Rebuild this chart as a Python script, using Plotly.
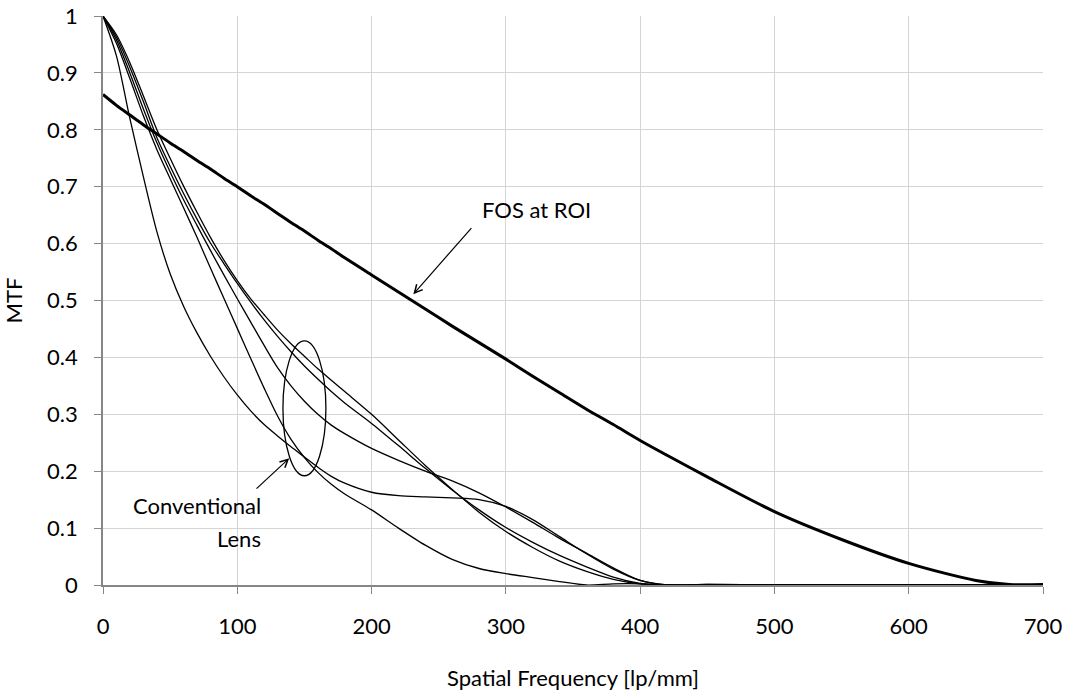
import plotly.graph_objects as go

# Spatial frequency sample points [lp/mm]
freq = [0, 10, 20, 30, 40, 50, 60, 70, 80, 90, 100, 110, 120, 130, 140, 150,
        160, 170, 180, 200, 220, 240, 260, 280, 300, 320, 340, 360, 380, 400,
        420, 450, 500, 550, 600, 650, 675, 700]

# FOS at region of interest
mtf_fos = [0.862, 0.843, 0.826, 0.809, 0.793, 0.777, 0.762, 0.746, 0.731, 0.715,
           0.700, 0.684, 0.669, 0.653, 0.637, 0.622, 0.606, 0.591, 0.575, 0.545,
           0.515, 0.485, 0.455, 0.426, 0.397, 0.367, 0.338, 0.309, 0.282, 0.254,
           0.228, 0.190, 0.129, 0.080, 0.038, 0.008, 0.001, 0.001]

# Conventional lens, five field positions
mtf_lens_a = [1.000, 0.930, 0.820, 0.718, 0.622, 0.547, 0.490, 0.443, 0.402, 0.366,
              0.334, 0.306, 0.282, 0.262, 0.243, 0.225, 0.207, 0.191, 0.179, 0.163,
              0.157, 0.155, 0.153, 0.150, 0.138, 0.115, 0.085, 0.055, 0.028, 0.008,
              0.000, 0.001, 0.000, 0.000, 0.000, 0.000, 0.000, 0.000]
mtf_lens_b = [1.000, 0.952, 0.890, 0.825, 0.766, 0.714, 0.663, 0.611, 0.557, 0.504,
              0.451, 0.398, 0.346, 0.297, 0.256, 0.224, 0.198, 0.177, 0.160, 0.132,
              0.100, 0.070, 0.045, 0.029, 0.020, 0.013, 0.006, 0.000, 0.002, 0.002,
              0.000, 0.000, 0.000, 0.000, 0.000, 0.000, 0.000, 0.000]
mtf_lens_c = [1.000, 0.958, 0.900, 0.837, 0.778, 0.726, 0.677, 0.632, 0.588, 0.545,
              0.503, 0.462, 0.421, 0.382, 0.350, 0.323, 0.300, 0.281, 0.266, 0.240,
              0.219, 0.200, 0.183, 0.162, 0.137, 0.110, 0.082, 0.056, 0.030, 0.008,
              0.000, 0.001, 0.000, 0.000, 0.000, 0.000, 0.000, 0.000]
mtf_lens_d = [1.000, 0.963, 0.910, 0.850, 0.787, 0.736, 0.688, 0.643, 0.601, 0.565,
              0.530, 0.497, 0.466, 0.437, 0.410, 0.385, 0.362, 0.340, 0.320, 0.284,
              0.245, 0.205, 0.167, 0.132, 0.101, 0.075, 0.052, 0.032, 0.014, 0.003,
              0.000, 0.000, 0.000, 0.000, 0.000, 0.000, 0.000, 0.000]
mtf_lens_e = [1.000, 0.967, 0.918, 0.860, 0.801, 0.750, 0.701, 0.655, 0.611, 0.571,
              0.535, 0.503, 0.475, 0.448, 0.424, 0.402, 0.380, 0.360, 0.340, 0.300,
              0.255, 0.210, 0.168, 0.128, 0.094, 0.066, 0.042, 0.024, 0.010, 0.002,
              0.000, 0.000, 0.000, 0.000, 0.000, 0.000, 0.000, 0.000]

x_ticks = [0, 100, 200, 300, 400, 500, 600, 700]
y_ticks = [0, 0.1, 0.2, 0.3, 0.4, 0.5, 0.6, 0.7, 0.8, 0.9, 1]
y_tick_text = ["0", "0.1", "0.2", "0.3", "0.4", "0.5", "0.6", "0.7", "0.8", "0.9", "1"]

FONT = "Lato"
fig = go.Figure()

for series in [mtf_lens_a, mtf_lens_b, mtf_lens_c, mtf_lens_d, mtf_lens_e]:
    fig.add_trace(go.Scatter(
        x=freq, y=series, mode="lines",
        line=dict(color="black", width=1.3, shape="spline", smoothing=0.8),
        showlegend=False, hoverinfo="skip"))

fig.add_trace(go.Scatter(
    x=freq, y=mtf_fos, mode="lines",
    line=dict(color="black", width=3, shape="spline", smoothing=0.8),
    showlegend=False, hoverinfo="skip"))

# Ellipse grouping the conventional lens curves
fig.add_shape(type="circle", xref="x", yref="y", x0=134, x1=166, y0=0.192, y1=0.429,
              line=dict(color="black", width=1.3))

arrow_style = dict(showarrow=True, arrowhead=5, arrowsize=1.3, arrowwidth=1.2,
                   arrowcolor="black", axref="x", ayref="y", standoff=0, text="")
fig.add_annotation(x=231.1, y=0.511, ax=275.3, ay=0.63, **arrow_style)
fig.add_annotation(x=138.7, y=0.2227, ax=113.2, ay=0.167, **arrow_style)

label_font = dict(family=FONT, size=22, color="black")
fig.add_annotation(x=323, y=0.660, text="FOS at ROI", showarrow=False,
                   xanchor="center", yanchor="middle", font=label_font)
fig.add_annotation(x=119.5, y=0.139, text="Conventional", showarrow=False,
                   xanchor="right", yanchor="middle", font=label_font)
fig.add_annotation(x=119.5, y=0.081, text="Lens", showarrow=False,
                   xanchor="right", yanchor="middle", font=label_font)

axis_common = dict(showgrid=True, gridcolor="#d4d4d4", gridwidth=1.3, zeroline=False,
                   showline=True, linecolor="#868686", linewidth=1.6,
                   ticks="outside", ticklen=7, tickcolor="#868686", tickwidth=1.3,
                   tickfont=dict(family=FONT, size=22, color="black"),
                   automargin=False)

fig.update_layout(
    width=1069, height=696,
    margin=dict(l=103, r=26, t=16, b=111),
    paper_bgcolor="white", plot_bgcolor="white",
    font=dict(family=FONT, size=22, color="black"),
    xaxis=dict(range=[0, 700], tickvals=x_ticks, ticklabelstandoff=14,
               title=dict(text="Spatial Frequency [lp/mm]", standoff=32,
                          font=dict(family=FONT, size=22, color="black")),
               **axis_common),
    yaxis=dict(range=[0, 1], tickvals=y_ticks, ticktext=y_tick_text,
               ticklabelstandoff=12,
               title=dict(text="MTF", standoff=30,
                          font=dict(family=FONT, size=22, color="black")),
               **axis_common),
)

fig.write_html("out.html")
